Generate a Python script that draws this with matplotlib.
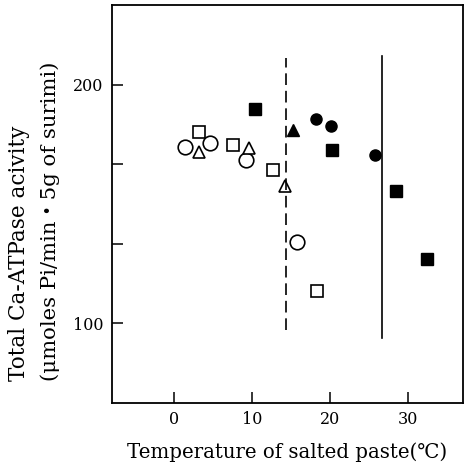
import numpy as np
import matplotlib

matplotlib.use("Agg")
import matplotlib.pyplot as plt

# valores (temperatura °C, atividade)
circ_aberto_x = [1.3, 4.6, 9.2, 15.7]
circ_aberto_y = [173.9, 175.6, 168.4, 134.1]
quad_aberto_x = [3.2, 7.5, 12.6, 18.3]
quad_aberto_y = [180.0, 174.9, 164.1, 113.7]
tri_aberto_x = [3.2, 9.6, 14.2]
tri_aberto_y = [171.8, 173.5, 157.4]
quad_cheio_x = [10.4, 20.2, 28.4, 32.4]
quad_cheio_y = [189.8, 172.5, 155.3, 127.1]
circ_cheio_x = [18.1, 20.1, 25.7]
circ_cheio_y = [185.5, 182.5, 170.5]
tri_cheio_x = [15.2]
tri_cheio_y = [180.9]

limite_tracejado = (14.3, 97.3, 211.0)   # x, y0, y1
limite_solido = (26.6, 94.1, 211.9)

plt.rcParams["font.family"] = ["DejaVu Serif", "DejaVu Sans", "Noto Sans CJK JP"]

fig = plt.figure(figsize=(4.69, 4.69), dpi=100)
ax = fig.add_axes([0.2388, 0.1407, 0.7482, 0.8486])

ax.plot(circ_aberto_x, circ_aberto_y, "o", ms=10.5, mfc="white", mec="black", mew=1.2, ls="none")
ax.plot(quad_aberto_x, quad_aberto_y, "s", ms=8, mfc="white", mec="black", mew=1.2, ls="none")
ax.plot(tri_aberto_x, tri_aberto_y, "^", ms=8.5, mfc="white", mec="black", mew=1.2, ls="none")
ax.plot(quad_cheio_x, quad_cheio_y, "s", ms=8, color="black", ls="none")
ax.plot(circ_cheio_x, circ_cheio_y, "o", ms=8, color="black", ls="none")
ax.plot(tri_cheio_x, tri_cheio_y, "^", ms=9, color="black", ls="none")

x, y0, y1 = limite_tracejado
ax.plot([x, x], [y0, y1], color="black", lw=1.2, ls=(0, (7, 3.5)))
x, y0, y1 = limite_solido
ax.plot([x, x], [y0, y1], color="black", lw=1.2)

ax.set_xlim(-8, 37)
ax.set_ylim(100 - 100 / 3, 200 + 100 / 3)
ax.set_xticks([0, 10, 20, 30])
ax.set_yticks([100, 100 + 100 / 3, 100 + 200 / 3, 200])
ax.set_yticklabels(["100", "", "", "200"])
ax.tick_params(direction="in", length=8, width=1.1, labelsize=11.5, pad=6)
for s in ax.spines.values():
    s.set_linewidth(1.3)

ax.set_xlabel("Temperature of salted paste(℃)", fontsize=14.2, labelpad=10)
fig.text(0.040, 1 - 381 / 469, "Total Ca-ATPase acivity", rotation=90,
         ha="center", va="bottom", fontsize=15.5)
fig.text(0.106, 1 - 381 / 469, "(μmoles Pi/min・5g of surimi)", rotation=90,
         ha="center", va="bottom", fontsize=15.3)

fig.savefig("out.png", dpi=100)
